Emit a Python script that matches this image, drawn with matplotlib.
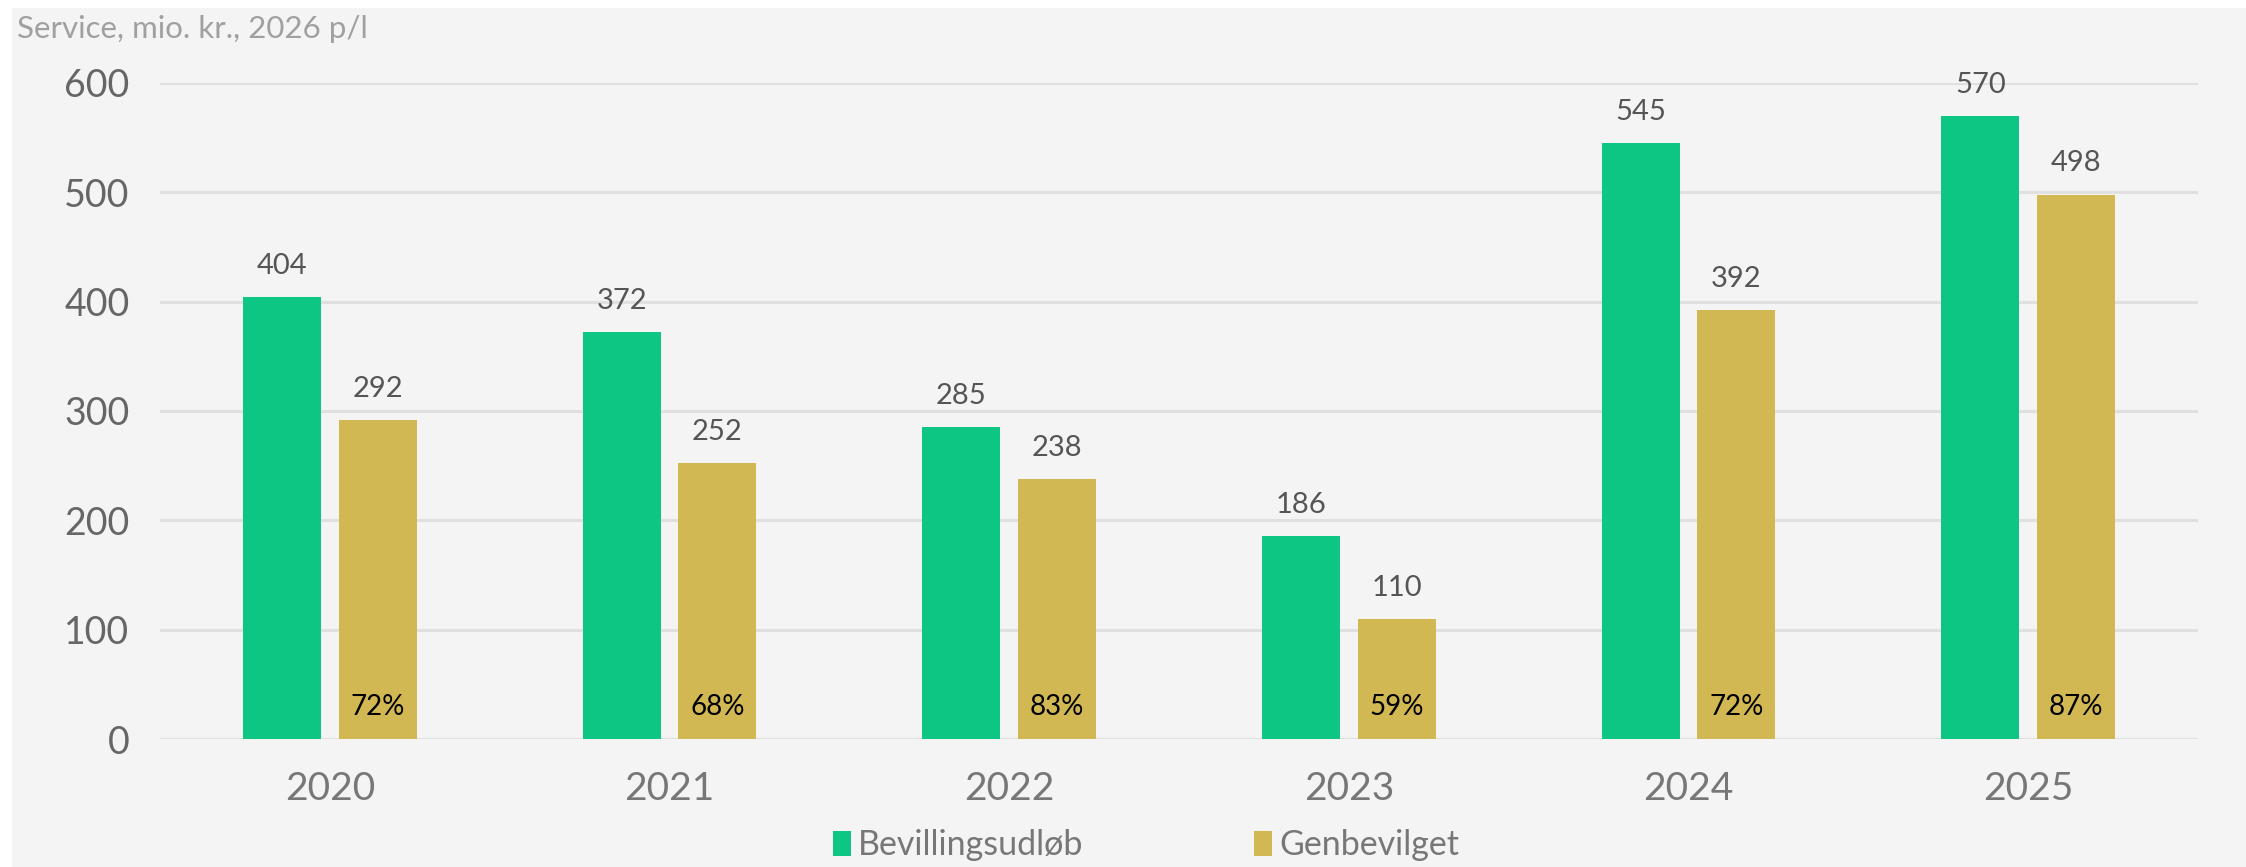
import matplotlib
matplotlib.use("Agg")
import matplotlib.pyplot as plt
import numpy as np
from matplotlib.patches import Patch

plt.rcParams['font.family'] = ['Lato', 'DejaVu Sans']

# Data
years = ['2020', '2021', '2022', '2023', '2024', '2025']
bevillingsudlob = [404, 372, 285, 186, 545, 570]
genbevilget = [292, 252, 238, 110, 392, 498]
andel = ['72%', '68%', '83%', '59%', '72%', '87%']

green = '#0ec683'
gold = '#d2b853'
bg = '#f4f4f4'

fig = plt.figure(figsize=(22.46, 8.67), dpi=100)
fig.patch.set_facecolor('white')
# grå baggrund (lille hvid kant oppe og til venstre)
fig.patches.append(plt.Rectangle((12 / 2246, 0), 1, 1 - 8 / 867, transform=fig.transFigure,
                                 facecolor=bg, edgecolor='none', zorder=-10))

ax = fig.add_axes([160 / 2246, 1 - 739 / 867, 2038 / 2246, 656 / 867])
ax.set_facecolor('none')

x = np.arange(len(years))
w = 0.23
off = 0.141

b1 = ax.bar(x - off, bevillingsudlob, w, color=green, zorder=3, label='Bevillingsudløb')
b2 = ax.bar(x + off, genbevilget, w, color=gold, zorder=3, label='Genbevilget')

for i in range(len(years)):
    ax.annotate(str(bevillingsudlob[i]), (x[i] - off, bevillingsudlob[i]), xytext=(0, 13),
                textcoords='offset points', ha='center', va='bottom', fontsize=21, color='#555555')
    ax.annotate(str(genbevilget[i]), (x[i] + off, genbevilget[i]), xytext=(0, 13),
                textcoords='offset points', ha='center', va='bottom', fontsize=21, color='#555555')
    ax.annotate(andel[i], (x[i] + off, 0), xytext=(0, 14), textcoords='offset points',
                ha='center', va='bottom', fontsize=20, color='black', zorder=4)

ax.set_xlim(-0.5, len(years) - 0.5)
ax.set_ylim(0, 600)
ax.set_yticks(range(0, 601, 100))
ax.yaxis.grid(True, color='#e0e0e0', linewidth=2.2, zorder=0)
ax.set_axisbelow(True)
for s in ax.spines.values():
    s.set_visible(False)

ax.set_xticks(x)
ax.set_xticklabels(years)
ax.tick_params(axis='x', length=0, pad=23, labelsize=28, labelcolor='#777777')
ax.tick_params(axis='y', length=0, pad=22, labelsize=27, labelcolor='#666666')

fig.text(17 / 2246, 1 - 38 / 867, 'Service, mio. kr., 2026 p/l', fontsize=22.5,
         color='#a0a0a0', ha='left', va='baseline')

handles = [Patch(facecolor=green, edgecolor='none'), Patch(facecolor=gold, edgecolor='none')]
leg = fig.legend(handles, ['Bevillingsudløb', 'Genbevilget'], loc='center',
                 bbox_to_anchor=(1146 / 2246, 1 - 845 / 867), ncol=2, frameon=False,
                 fontsize=24.5, handlelength=0.55, handleheight=0.75,
                 handletextpad=0.2, columnspacing=5.0)
for t in leg.get_texts():
    t.set_color('#777777')

fig.savefig('out.png', dpi=100, facecolor=fig.get_facecolor())
